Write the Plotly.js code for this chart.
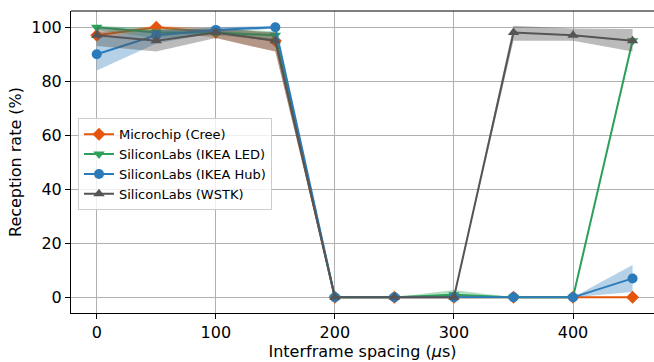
<!DOCTYPE html>
<html>
<head>
<meta charset="utf-8">
<script src="https://cdn.plot.ly/plotly-3.0.1.min.js"></script>
<style>html,body{margin:0;padding:0;background:#fff;overflow:hidden}#plot{width:654px;height:362px}</style>
</head>
<body>
<div id="plot"></div>
<script>
const spacing = [0, 50, 100, 150, 200, 250, 300, 350, 400, 450];

const seriesNames = ['Microchip (Cree)', 'SiliconLabs (IKEA LED)', 'SiliconLabs (IKEA Hub)', 'SiliconLabs (WSTK)'];

const creeMean = [97, 100, 98, 95, 0, 0, 0, 0, 0, 0];
const creeLow  = [96, 99, 96, 91, 0, 0, 0, 0, 0, 0];
const creeHigh = [98, 100.5, 99.5, 98, 0, 0, 0, 0, 0, 0];

const ledMean = [100, 98, 98, 97, 0, 0, 1, 0, 0, 95];
const ledLow  = [99, 96, 97, 95, 0, 0, 0, 0, 0, 94];
const ledHigh = [100.5, 99.5, 99.5, 98.5, 0, 0, 2.7, 0, 0, 96];

const hubMean = [90, 97, 99, 100, 0, 0, 0, 0, 0, 7];
const hubLow  = [84, 94, 98, 99.5, 0, 0, 0, 0, 0, 2];
const hubHigh = [96, 99, 100, 100.5, 0, 0, 0, 0, 0, 12];

const wstkMean = [97, 95, 98, 95, 0, 0, 0, 98, 97, 95];
const wstkLow  = [93, 91, 96, 91, 0, 0, 0, 95, 95, 91];
const wstkHigh = [100, 99, 99.5, 98, 0, 0, 0, 100.5, 99.5, 99.3];

const colors = ['#e6550d', '#2ca05a', '#2b7bba', '#555555'];
const fills = ['rgba(230,85,13,0.35)', 'rgba(44,160,90,0.35)', 'rgba(43,123,186,0.35)', 'rgba(85,85,85,0.4)'];
const symbols = ['diamond', 'triangle-down', 'circle', 'triangle-up'];
const sizes = [10, 10, 10, 10];

const means = [creeMean, ledMean, hubMean, wstkMean];
const lows = [creeLow, ledLow, hubLow, wstkLow];
const highs = [creeHigh, ledHigh, hubHigh, wstkHigh];

const traces = [];
for (let i = 0; i < 4; i++) {
  traces.push({
    x: spacing.concat(spacing.slice().reverse()),
    y: highs[i].concat(lows[i].slice().reverse()),
    type: 'scatter', mode: 'lines', fill: 'toself',
    fillcolor: fills[i], line: {width: 0, color: fills[i]},
    showlegend: false, hoverinfo: 'skip'
  });
  traces.push({
    x: spacing, y: means[i], name: seriesNames[i],
    type: 'scatter', mode: 'lines+markers',
    line: {color: colors[i], width: 2},
    marker: {color: colors[i], symbol: symbols[i], size: sizes[i]}
  });
}

const font = {family: 'DejaVu Sans', size: 16, color: '#000'};
const layout = {
  width: 654, height: 362,
  margin: {l: 71, r: 0, t: 11, b: 49},
  paper_bgcolor: '#fff', plot_bgcolor: '#fff',
  font: font,
  showlegend: true,
  legend: {
    x: 0.012, y: 0.645, xanchor: 'left', yanchor: 'top',
    bgcolor: 'rgba(255,255,255,0.8)', bordercolor: '#cccccc', borderwidth: 1,
    font: {family: 'DejaVu Sans', size: 13, color: '#000'},
    tracegroupgap: 0, itemwidth: 30
  },
  xaxis: {
    range: [-21.6, 468], tickvals: [0, 100, 200, 300, 400],
    showgrid: true, gridcolor: '#b0b0b0', gridwidth: 1,
    zeroline: false, showline: true, linecolor: '#000', linewidth: 1,
    ticks: 'outside', ticklen: 5, tickcolor: '#000',
    tickfont: font,
    title: {text: 'Interframe spacing (<i>μ</i>s)', font: font, standoff: 2}
  },
  yaxis: {
    range: [-5.8, 106], tickvals: [0, 20, 40, 60, 80, 100],
    showgrid: true, gridcolor: '#b0b0b0', gridwidth: 1,
    zeroline: false, showline: true, linecolor: '#000', linewidth: 1,
    ticks: 'outside', ticklen: 5, tickcolor: '#000',
    tickfont: font,
    title: {text: 'Reception rate (%)', font: font, standoff: 5}
  },
  shapes: [{type: 'line', xref: 'paper', yref: 'paper', x0: 0, x1: 1, y0: 1, y1: 1, line: {color: '#000', width: 1}}]
};
Plotly.newPlot('plot', traces, layout, {displayModeBar: false, staticPlot: true});
</script>
</body>
</html>
